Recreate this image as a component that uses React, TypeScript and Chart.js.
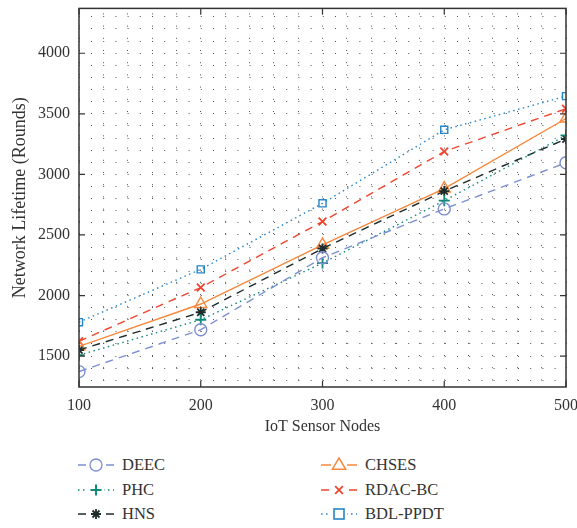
import React, { useEffect, useRef } from "react";
import { Chart, registerables } from "chart.js";

Chart.register(...registerables);

const xNodes = [100, 200, 300, 400, 500];
const deec = [1372, 1718, 2312, 2715, 3096];
const phc = [1508, 1800, 2268, 2783, 3322];
const hns = [1550, 1862, 2388, 2862, 3292];
const chses = [1580, 1930, 2418, 2883, 3461];
const rdacbc = [1622, 2066, 2611, 3189, 3542];
const bdlppdt = [1780, 2216, 2761, 3368, 3646];

const xTickLabels = [100, 200, 300, 400, 500];
const yTickLabels = [1500, 2000, 2500, 3000, 3500, 4000];

type S = { name: string; data: number[]; color: string; dash: number[]; point: string; r: number };

const series: S[] = [
  { name: "DEEC", data: deec, color: "#7d8ed3", dash: [8, 6], point: "circle", r: 6 },
  { name: "PHC", data: phc, color: "#13897a", dash: [1.5, 3.5], point: "cross", r: 5.5 },
  { name: "HNS", data: hns, color: "#1e2b2b", dash: [8, 6], point: "star", r: 5 },
  { name: "CHSES", data: chses, color: "#f6883d", dash: [], point: "triangle", r: 7 },
  { name: "RDAC-BC", data: rdacbc, color: "#ef4630", dash: [8, 6], point: "crossRot", r: 5.5 },
  { name: "BDL-PPDT", data: bdlppdt, color: "#2585c9", dash: [1.5, 3.5], point: "rect", r: 5 },
];

const legendOrder = [
  [0, 3],
  [1, 4],
  [2, 5],
];

const frame = {
  id: "frame",
  afterDatasetsDraw(chart: any) {
    const { ctx, chartArea: a, scales } = chart;
    ctx.save();
    ctx.setLineDash([]);
    ctx.strokeStyle = "#333";
    ctx.lineWidth = 1.5;
    ctx.strokeRect(a.left, a.top, a.right - a.left, a.bottom - a.top);
    ctx.lineWidth = 1.2;
    const L = 6;
    ctx.beginPath();
    xTickLabels.forEach((v) => {
      const px = scales.x.getPixelForValue(v);
      ctx.moveTo(px, a.bottom);
      ctx.lineTo(px, a.bottom - L);
      ctx.moveTo(px, a.top);
      ctx.lineTo(px, a.top + L);
    });
    yTickLabels.forEach((v) => {
      const py = scales.y.getPixelForValue(v);
      ctx.moveTo(a.left, py);
      ctx.lineTo(a.left + L, py);
      ctx.moveTo(a.right, py);
      ctx.lineTo(a.right - L, py);
    });
    ctx.stroke();
    ctx.restore();
  },
};

function Marker({ s, cx, cy }: { s: S; cx: number; cy: number }) {
  const c = s.color;
  const r = s.r;
  switch (s.point) {
    case "circle":
      return <circle cx={cx} cy={cy} r={r} fill="none" stroke={c} strokeWidth={1.3} />;
    case "cross":
      return (
        <path d={`M${cx - r} ${cy}H${cx + r}M${cx} ${cy - r}V${cy + r}`} stroke={c} strokeWidth={2} />
      );
    case "star":
      return (
        <path
          d={`M${cx - r} ${cy}H${cx + r}M${cx} ${cy - r}V${cy + r}M${cx - r * 0.7} ${cy - r * 0.7}L${cx + r * 0.7} ${cy + r * 0.7}M${cx - r * 0.7} ${cy + r * 0.7}L${cx + r * 0.7} ${cy - r * 0.7}`}
          stroke={c}
          strokeWidth={1.8}
        />
      );
    case "triangle":
      return (
        <path
          d={`M${cx} ${cy - r}L${cx + r * 0.95} ${cy + r * 0.6}L${cx - r * 0.95} ${cy + r * 0.6}Z`}
          fill="none"
          stroke={c}
          strokeWidth={1.5}
        />
      );
    case "crossRot":
      return (
        <path
          d={`M${cx - r * 0.7} ${cy - r * 0.7}L${cx + r * 0.7} ${cy + r * 0.7}M${cx - r * 0.7} ${cy + r * 0.7}L${cx + r * 0.7} ${cy - r * 0.7}`}
          stroke={c}
          strokeWidth={1.8}
        />
      );
    default:
      return <rect x={cx - r} y={cy - r} width={2 * r} height={2 * r} fill="none" stroke={c} strokeWidth={1.6} />;
  }
}

function LegendItem({ s, x, y }: { s: S; x: number; y: number }) {
  const dash = s.dash.length ? s.dash.join(",") : undefined;
  return (
    <div style={{ position: "absolute", left: x, top: y - 12, height: 24, display: "flex", alignItems: "center" }}>
      <svg width={36} height={24}>
        <line x1={0} y1={12} x2={36} y2={12} stroke={s.color} strokeWidth={1.5} strokeDasharray={dash} />
        <rect x={10} y={4} width={16} height={16} fill="white" />
        <Marker s={s} cx={18} cy={12} />
      </svg>
      <span
        style={{
          marginLeft: 8,
          fontFamily: "'Liberation Serif', serif",
          fontSize: 16.5,
          color: "#333",
          whiteSpace: "nowrap",
        }}
      >
        {s.name}
      </span>
    </div>
  );
}

export default function App() {
  const ref = useRef<HTMLCanvasElement>(null);

  useEffect(() => {
    if (!ref.current) return;
    const font = { family: "'Liberation Serif', serif", size: 16 };
    const chart = new Chart(ref.current, {
      type: "line",
      data: {
        datasets: series.map((s) => ({
          label: s.name,
          data: s.data.map((v, i) => ({ x: xNodes[i], y: v })),
          borderColor: s.color,
          backgroundColor: "rgba(0,0,0,0)",
          borderWidth: 1.4,
          borderDash: s.dash,
          pointStyle: s.point as any,
          pointRadius: s.r,
          pointBorderWidth: s.point === "cross" || s.point === "star" || s.point === "crossRot" ? 1.8 : 1.4,
          pointBorderColor: s.color,
          pointBackgroundColor: "rgba(0,0,0,0)",
          tension: 0,
        })),
      },
      options: {
        animation: false,
        responsive: false,
        maintainAspectRatio: false,
        layout: { padding: { left: 0, right: 11, top: 5, bottom: 0 } },
        plugins: { legend: { display: false }, tooltip: { enabled: false } },
        scales: {
          x: {
            type: "linear",
            min: 100,
            max: 500,
            afterBuildTicks: (scale: any) => {
              const t: any[] = [];
              for (let v = 100; v <= 500; v += 20) t.push({ value: v });
              scale.ticks = t;
            },
            afterFit: (scale: any) => {
              scale.height = 53;
              scale.paddingLeft = 0;
              scale.paddingRight = 0;
            },
            border: { display: false, dash: [1, 11.2], dashOffset: -5 },
            grid: {
              color: "#555",
              lineWidth: 1,
              drawTicks: false,
            },
            ticks: {
              autoSkip: false,
              maxRotation: 0,
              padding: 9,
              color: "#333",
              font,
              callback: (v: any) => (xTickLabels.includes(Number(v)) ? String(v) : ""),
            },
            title: {
              display: true,
              text: "IoT Sensor Nodes",
              color: "#333",
              font: { family: "'Liberation Serif', serif", size: 16 },
              padding: { top: 0, bottom: 4 },
            },
          },
          y: {
            type: "linear",
            min: 1245,
            max: 4370,
            afterBuildTicks: (scale: any) => {
              const t: any[] = [];
              for (let v = 1300; v <= 4300; v += 100) t.push({ value: v });
              scale.ticks = t;
            },
            afterFit: (scale: any) => {
              scale.width = 79;
              scale.paddingTop = 0;
              scale.paddingBottom = 0;
            },
            border: { display: false, dash: [1, 11.2], dashOffset: -12 },
            grid: {
              color: "#555",
              lineWidth: 1,
              drawTicks: false,
            },
            ticks: {
              autoSkip: false,
              padding: 9,
              color: "#333",
              font,
              callback: (v: any) => (yTickLabels.includes(Number(v)) ? String(v) : ""),
            },
            title: {
              display: true,
              text: "Network Lifetime (Rounds)",
              color: "#333",
              font: { family: "'Liberation Serif', serif", size: 18 },
              padding: { top: 9, bottom: 0 },
            },
          },
        },
      },
      plugins: [frame],
    } as any);
    return () => chart.destroy();
  }, []);

  const rowsY = [465, 490, 514];
  return (
    <div style={{ position: "absolute", left: 0, top: 0, width: 577, height: 528, background: "#fff" }}>
      <canvas ref={ref} width={577} height={440} style={{ display: "block", width: 577, height: 440 }} />
      {legendOrder.map((pair, r) => (
        <React.Fragment key={r}>
          <LegendItem s={series[pair[0]]} x={78} y={rowsY[r]} />
          <LegendItem s={series[pair[1]]} x={321} y={rowsY[r]} />
        </React.Fragment>
      ))}
    </div>
  );
}
